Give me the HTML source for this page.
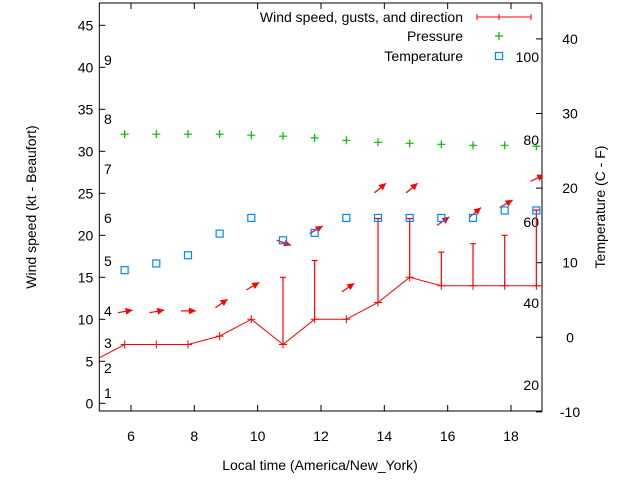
<!DOCTYPE html>
<html><head><meta charset="utf-8"><style>
body{margin:0;background:#fff}
svg text{font-family:"Liberation Sans",sans-serif;font-size:14px;fill:#000}
</style></head><body>
<svg id="chart" width="640" height="480" viewBox="0 0 640 480" xmlns="http://www.w3.org/2000/svg"></svg>
<script>
const times=[5.8,6.8,7.8,8.8,9.8,10.8,11.8,12.8,13.8,14.8,15.8,16.8,17.8,18.8];
const wind=[7,7,7,8,10,7,10,10,12,15,14,14,14,14];
const gusts=[null,null,null,null,null,15,17,null,22,22,18,19,20,23];
const pressure=[32.04,32.04,32.04,32.04,31.92,31.8,31.6,31.31,31.07,30.95,30.83,30.71,30.71,30.6];
const temps=[9,9.9,11,13.9,16,13,14,16,16,16,16,16,17,17];
const arrowLevel=[11.1,11.1,11.0,12.4,14.4,18.8,21.1,14.3,26.2,26.2,22.2,23.3,24.2,27.2];
const arrowAngle=[10,10,0,35,30,-20,30,35,40,40,35,40,30,25];
const xTicks=[6,8,10,12,14,16,18];
const yTicks=[0,5,10,15,20,25,30,35,40,45];
const y2Ticks=[-10,0,10,20,30,40];
const beaufortLabels=[["1",393],["2",368],["3",343],["4",311],["5",261],["6",218],["7",169],["8",119],["9",60]];
const fahrLabels=[["20",385],["40",303],["60",222],["80",140],["100",57]];

const L=99.3,R=542,T=3,B=411;
const X=t=>L+(t-5)*31.67;
const Y=v=>403.3-v*8.4;
const Y2=c=>337.3-c*7.46;
const svg=document.getElementById('chart');
const NS='http://www.w3.org/2000/svg';
function mk(tag,attrs,parent){const e=document.createElementNS(NS,tag);for(const k in attrs)e.setAttribute(k,attrs[k]);(parent||svg).appendChild(e);return e;}

const defs=mk('defs',{});const cp=mk('clipPath',{id:'clip'},defs);mk('rect',{x:L,y:T,width:R-L,height:B-T},cp);

const frame=mk('rect',{x:L,y:T,width:R-L,height:B-T,fill:'none',stroke:'#000','stroke-width':1});


xTicks.forEach(t=>{
  const x=X(t);
  mk('line',{x1:x,y1:B,x2:x,y2:B-6,stroke:'#000'});
  mk('line',{x1:x,y1:T,x2:x,y2:T+6,stroke:'#000'});
  const tx=mk('text',{x:x,y:B+30,'text-anchor':'middle'});tx.textContent=t;
  
  
});
yTicks.forEach(v=>{
  const y=Y(v);
  mk('line',{x1:L,y1:y,x2:L+6,y2:y,stroke:'#000'});
  const tx=mk('text',{x:L-6,y:y+5,'text-anchor':'end'});tx.textContent=v;
  
  
});
y2Ticks.forEach(c=>{
  const y=Y2(c);
  mk('line',{x1:R,y1:y,x2:R-6,y2:y,stroke:'#000'});
  const tx=mk('text',{x:R+28,y:y+5,'text-anchor':'middle'});tx.textContent=c;
  
  
});
beaufortLabels.forEach(([s,y])=>{
  const tx=mk('text',{x:104,y:y+5});tx.textContent=s;
  
  
});
fahrLabels.forEach(([s,y])=>{
  const tx=mk('text',{x:539,y:y+5,'text-anchor':'end'});tx.textContent=s;
  
  
});
let t1=mk('text',{x:320,y:470,'text-anchor':'middle'});t1.textContent='Local time (America/New_York)';


let t2=mk('text',{x:36,y:207,'text-anchor':'middle',transform:'rotate(-90 36 207)'});t2.textContent='Wind speed (kt - Beaufort)';


let t3=mk('text',{x:605,y:207,'text-anchor':'middle',transform:'rotate(-90 605 207)'});t3.textContent='Temperature (C - F)';



const g=mk('g',{'clip-path':'url(#clip)'});
const pts=[[X(4.8),Y(5)]].concat(times.map((t,i)=>[X(t),Y(wind[i])])).concat([[X(19.8),Y(14)]]);
const wl=mk('polyline',{points:pts.map(p=>p.join(',')).join(' '),fill:'none',stroke:'#f00','stroke-width':1},g);


times.forEach((t,i)=>{
  const x=X(t),y=Y(wind[i]);
  const m=mk('path',{d:`M${x-4},${y}h8M${x},${y-4}v8`,stroke:'#f00'},g);
  
  
  if(gusts[i]!=null){
    const gy=Y(gusts[i]);
    const b=mk('path',{d:`M${x},${y}V${gy}M${x-3},${gy}h6`,stroke:'#f00','stroke-width':1.2},g);
    
    
  }
  const a=arrowAngle[i]*Math.PI/180,tx=x+8,ty=Y(arrowLevel[i]);
  const dx=Math.cos(a),dy=-Math.sin(a),len=15;
  const sx=tx-dx*len,sy=ty-dy*len;
  const hx=tx-dx*7,hy=ty-dy*7,px=-dy*3.5,py=dx*3.5;
  const ar=mk('g',{},g);
  
  
  mk('line',{x1:sx,y1:sy,x2:tx,y2:ty,stroke:'#f00','stroke-width':1.2},ar);
  mk('polygon',{points:`${tx},${ty} ${hx+px},${hy+py} ${hx-px},${hy-py}`,fill:'#f00'},ar);
  const py2=Y(pressure[i]);
  const pm=mk('path',{d:`M${x-4},${py2}h8M${x},${py2-4}v8`,stroke:'#0b0','stroke-width':1.2},g);
  
  
  const ty2=Y2(temps[i]);
  const sq=mk('rect',{x:x-3.5,y:ty2-3.5,width:7,height:7,fill:'none',stroke:'#08f','stroke-width':1.2},g);
  
  
});

const lg=mk('g',{});


[['Wind speed, gusts, and direction',17],['Pressure',36],['Temperature',56]].forEach(([s,y],k)=>{
  const tx=mk('text',{x:463,y:y+5,'text-anchor':'end'},lg);tx.textContent=s;
  
  
  if(k==0){mk('path',{d:`M477,${y}h54M477,${y-3}v6M531,${y-3}v6M499,${y-3}v6`,stroke:'#f00'},lg);}
  if(k==1){mk('path',{d:`M495,${y}h8M499,${y-4}v8`,stroke:'#0b0','stroke-width':1.2},lg);}
  if(k==2){mk('rect',{x:495.5,y:y-3.5,width:7,height:7,fill:'none',stroke:'#08f','stroke-width':1.2},lg);}
});
</script>
</body></html>
